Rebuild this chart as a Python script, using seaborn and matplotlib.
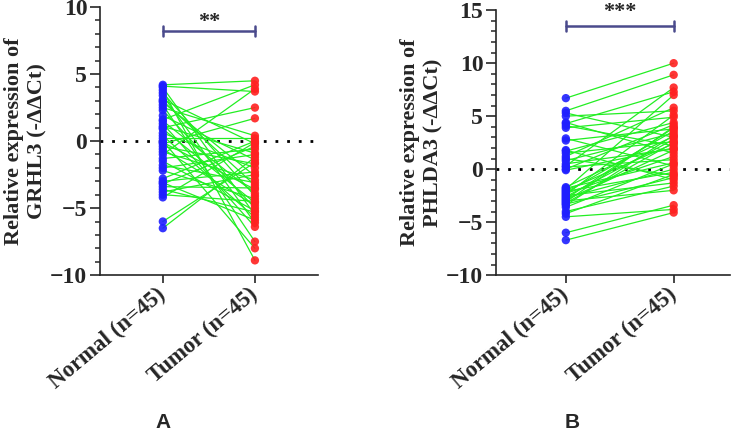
import numpy as np
import pandas as pd
import matplotlib
matplotlib.use("Agg")
import matplotlib.pyplot as plt
from matplotlib.ticker import MultipleLocator
import seaborn as sns

groups = ["Normal (n=45)", "Tumor (n=45)"]

# panel A: GRHL3, paired values (normal[i] -> tumor[i])
grhl3_normal = [4.2, 4.1, 4.0, 3.8, 3.6, 3.4, 3.1, 3.0, 2.9, 2.7, 2.5, 2.3, 1.9, 1.6, 1.5,
                1.3, 1.1, 1.0, 0.9, 0.6, 0.4, 0.2, 0.0, -0.1, -0.2, -0.4, -0.6, -0.8, -1.0,
                -1.3, -1.5, -1.8, -2.0, -2.2, -2.8, -3.0, -3.1, -3.2, -3.4, -3.6, -3.8, -4.0,
                -4.2, -6.0, -6.5]
grhl3_tumor = [4.5, 3.7, -5.5, -8.9, -4.1, -6.1, -0.2, -3.3, -2.6, -7.5, 0.4, -5.0, -1.4, 4.2,
               -3.9, -6.4, -0.9, 2.5, -4.6, -2.0, -5.7, 0.2, -8.0, -3.6, 1.7, -1.7, -4.8, -2.9,
               3.9, -0.6, -5.2, -3.1, -1.0, -4.3, 0.0, -2.3, -5.9, -0.4, -3.5, -5.3, -2.5, -4.5,
               -0.1, -1.6, -1.2]

# panel B: PHLDA3
phlda3_normal = [6.7, 5.5, 5.3, 5.0, 4.4, 4.3, 4.1, 3.9, 2.9, 2.7, 1.8, 1.7, 1.5, 1.2, 1.0,
                 0.8, 0.5, 0.3, 0.2, 0.0, -0.1, -1.7, -1.8, -1.9, -2.0, -2.1, -2.2, -2.3, -2.4,
                 -2.5, -2.6, -2.7, -2.8, -2.9, -3.0, -3.1, -3.2, -3.3, -3.4, -3.6, -4.0, -4.2,
                 -4.5, -6.0, -6.7]
phlda3_tumor = [10.0, 8.9, 3.0, 5.5, 1.5, 7.3, 2.2, 4.9, 0.3, 3.8, -1.0, 4.4, 2.6, 5.8, -0.6,
                3.4, 1.9, 7.7, 0.9, 4.2, 2.0, 3.1, 0.6, 7.0, 2.4, -0.3, 3.6, 1.2, 5.1, -1.3,
                2.8, 0.0, 3.9, 1.8, -2.0, 4.0, 2.5, -0.8, 3.2, 0.5, -1.6, -0.5, -3.8, -3.4, -4.1]

sns.set_style("ticks")
plt.rcParams["font.family"] = ["Liberation Serif", "DejaVu Serif"]
plt.rcParams["font.weight"] = "bold"

blue = "#1f1fff"
red = "#ff2020"
green = "#22ee22"
bracket_col = "#4a4a8c"


def make_df(normal, tumor):
    n = len(normal)
    return pd.DataFrame({
        "pair": list(range(n)) * 2,
        "group": [groups[0]] * n + [groups[1]] * n,
        "pos": [0] * n + [1] * n,
        "value": list(normal) + list(tumor),
    })


def draw_panel(ax, df, ylabel, ylim, xlim, bracket_y, star_y, stars):
    sns.lineplot(data=df, x="pos", y="value", units="pair", estimator=None,
                 color=green, lw=0.9, ax=ax, legend=False, zorder=2)
    sns.scatterplot(data=df, x="pos", y="value", hue="group", palette=[blue, red],
                    s=36, edgecolor="none", alpha=0.9, ax=ax, legend=False, zorder=3)
    ax.axhline(0, color="black", lw=2, linestyle=(0, (1, 3.2)), zorder=1)
    ax.set_ylim(*ylim)
    ax.set_xlim(*xlim)
    ax.yaxis.set_major_locator(MultipleLocator(5))
    ax.yaxis.set_minor_locator(MultipleLocator(1))
    ax.set_xticks([0, 1])
    ax.set_xticklabels(groups, rotation=40, ha="right", va="center",
                       rotation_mode="anchor", fontsize=16.5, fontweight="bold")
    for lab in ax.get_yticklabels():
        lab.set_fontsize(17)
        lab.set_fontweight("bold")
    ax.tick_params(axis="y", which="major", length=7, width=1.2, pad=2)
    ax.tick_params(axis="y", which="minor", length=3.5, width=1.1)
    ax.tick_params(axis="x", which="major", length=6, width=1.2, pad=6)
    ax.set_xlabel("")
    ax.set_ylabel(ylabel, fontsize=16, fontweight="bold", labelpad=2)
    for sp in ["left", "bottom"]:
        ax.spines[sp].set_linewidth(1.2)
    sns.despine(ax=ax)
    # significance bracket
    h = (ylim[1] - ylim[0]) * 0.018
    ax.plot([0, 1], [bracket_y, bracket_y], color=bracket_col, lw=1.8, clip_on=False)
    for xx in [0, 1]:
        ax.plot([xx, xx], [bracket_y - h, bracket_y + h], color=bracket_col, lw=1.8,
                clip_on=False)
    ax.text(0.5, star_y, stars, ha="center", va="center", fontsize=16,
            fontweight="bold", clip_on=False)


fig = plt.figure(figsize=(7.5, 4.43), dpi=100)
ax1 = fig.add_axes([0.133, 0.379, 0.291, 0.605])
ax2 = fig.add_axes([0.661, 0.379, 0.312, 0.598])

draw_panel(ax1, make_df(grhl3_normal, grhl3_tumor),
           "Relative expression of\nGRHL3 (-ΔΔCt)", (-10, 10), (-0.685, 1.685),
           8.2, 8.85, "**")
draw_panel(ax2, make_df(phlda3_normal, phlda3_tumor),
           "Relative expression of\nPHLDA3 (-ΔΔCt)", (-10, 15), (-0.65, 1.52),
           13.5, 14.85, "***")

fig.text(0.217, 0.025, "A", family="Liberation Sans", fontweight="bold",
         fontsize=15, ha="center", va="bottom")
fig.text(0.763, 0.025, "B", family="Liberation Sans", fontweight="bold",
         fontsize=15, ha="center", va="bottom")

fig.savefig("out.png", dpi=100)
